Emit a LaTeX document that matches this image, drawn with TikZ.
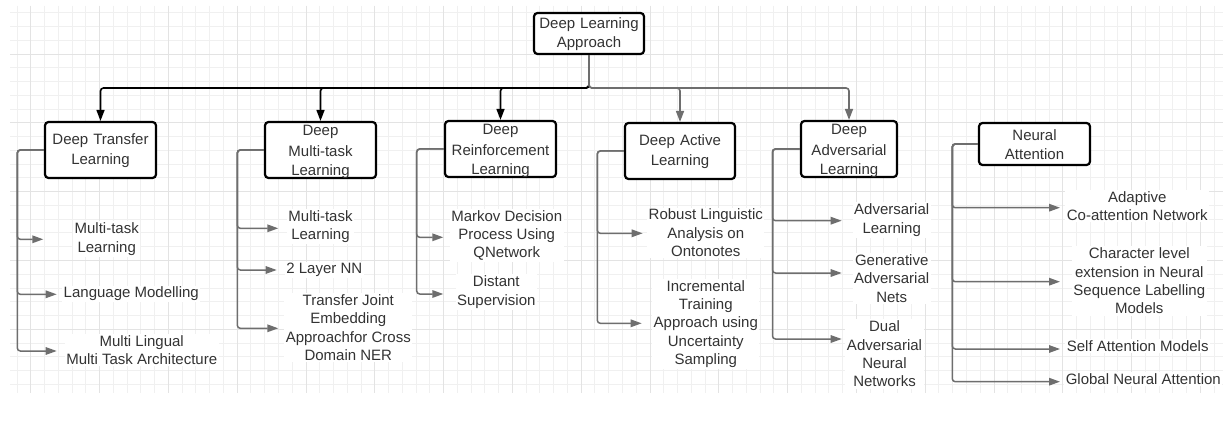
\documentclass[tikz,border=0pt]{standalone}
\usepackage{fontspec}
\setmainfont{Liberation Sans}
\usetikzlibrary{arrows.meta}
\definecolor{txt}{HTML}{333333}
\definecolor{conn}{HTML}{6E6E6E}
\definecolor{gridminor}{HTML}{F0F0F0}
\definecolor{gridmajor}{HTML}{E3E3E3}

\begin{document}
\begin{tikzpicture}[x=1pt,y=-1pt,
  every node/.style={font=\fontsize{15pt}{18.4pt}\selectfont, text=txt},
  topic/.style={draw=black, line width=2.2pt, rounded corners=3.5pt, fill=white,
    align=center, inner sep=0pt, minimum height=56pt},
  lowered/.style={execute at begin node={\vspace*{#1}},
    execute at end node={\endgraf\vspace*{-#1}}},
  leaf/.style={fill=white, align=center, inner sep=1.5pt},
  mainblack/.style={draw=black, line width=1.6pt, rounded corners=3pt,
    -{Triangle[length=11pt,width=8pt]}},
  maingray/.style={draw=conn, line width=1.6pt, rounded corners=3pt,
    -{Triangle[length=11pt,width=8pt]}},
  branch/.style={draw=conn, line width=1.5pt, rounded corners=3pt,
    -{Triangle[length=11pt,width=7.5pt]}}
]
% page and background
\fill[white] (0,0) rectangle (1223,422);
\useasboundingbox (0,0) rectangle (1223,422);

% drawing-canvas grid
\begin{scope}
  \clip (10,6) rectangle (1223,393);
  \foreach \i in {-2,...,86}
    \draw[gridminor, line width=0.8pt] ({30.7+13.76*\i},6) -- ({30.7+13.76*\i},393);
  \foreach \j in {-3,...,25}
    \draw[gridminor, line width=0.8pt] (10,{54+13.76*\j}) -- (1223,{54+13.76*\j});
  \foreach \i in {0,5,...,85}
    \draw[gridmajor, line width=0.8pt] ({30.7+13.76*\i},6) -- ({30.7+13.76*\i},393);
  \foreach \j in {0,5,...,25}
    \draw[gridmajor, line width=0.8pt] (10,{54+13.76*\j}) -- (1223,{54+13.76*\j});
\end{scope}

% root and first-level topics
\node[topic, lowered=1pt, text width=110pt, minimum height=41pt] (root) at (589,33.5) {Deep Learning\\Approach};
\node[topic, lowered=1pt, text width=111pt] (dtl)  at (100.5,150) {Deep Transfer\\Learning};
\node[topic, lowered=3pt, text width=111pt] (dml)  at (320.5,150) {Deep\\Multi-task\\Learning};
\node[topic, lowered=3pt, text width=111pt] (drl)  at (500.5,149) {Deep\\Reinforcement\\Learning};
\node[topic, lowered=1pt, text width=110pt] (dal)  at (680,151)   {Deep Active\\Learning};
\node[topic, lowered=3pt, text width=96pt]  (dadv) at (849,149)   {Deep\\Adversarial\\Learning};
\node[topic, lowered=1pt, text width=111pt, minimum height=42pt] (na) at (1034.5,144) {Neural\\Attention};

% leaf labels
\node[leaf] (l11) at (106.7,239)  {Multi-task\\Learning};
\node[leaf] (l12) at (131.3,294)  {Language Modelling};
\node[leaf] (l13) at (141.7,350)  {Multi Lingual\\Multi Task Architecture};
\node[leaf] (l21) at (320.5,226.5) {Multi-task\\Learning};
\node[leaf] (l22) at (324.3,270)  {2 Layer NN};
\node[leaf] (l23) at (348.3,327.5) {Transfer Joint\\Embedding\\Approachfor Cross\\Domain NER};
\node[leaf] (l31) at (506.7,235.5) {Markov Decision\\Process Using\\QNetwork};
\node[leaf] (l32) at (496.3,292)  {Distant\\Supervision};
\node[leaf] (l41) at (705.8,233)  {Robust Linguistic\\Analysis on\\Ontonotes};
\node[leaf] (l42) at (705.8,324)  {Incremental\\Training\\Approach using\\Uncertainty\\Sampling};
\node[leaf] (l51) at (891.7,220)  {Adversarial\\Learning};
\node[leaf] (l52) at (891.7,278.3) {Generative\\Adversarial\\Nets};
\node[leaf] (l53) at (884.5,354)  {Dual\\Adversarial\\Neural\\Networks};
\node[leaf] (l61) at (1137.3,206) {Adaptive\\Co-attention Network};
\node[leaf] (l62) at (1139.3,281) {Character level\\extension in Neural\\Sequence Labelling\\Models};
\node[leaf] (l63) at (1137.7,345.7) {Self Attention Models};
\node[leaf] (l64) at (1143.3,379) {Global Neural Attention};

% junction of the top bus and the branch spines
\coordinate (bus) at (589,88);
\coordinate (sp1) at (17.3,0);
\coordinate (sp2) at (237.3,0);
\coordinate (sp3) at (416.7,0);
\coordinate (sp4) at (597.3,0);
\coordinate (sp5) at (772.5,0);
\coordinate (sp6) at (952.3,0);

% arrow tips in front of the leaf labels
\coordinate (t11) at (43.3,239.3);
\coordinate (t12) at (56.7,294.3);
\coordinate (t13) at (56.7,351);
\coordinate (t21) at (278.3,228.3);
\coordinate (t22) at (276.7,270);
\coordinate (t23) at (278.3,328.3);
\coordinate (t31) at (443.3,237.3);
\coordinate (t32) at (443.3,294);
\coordinate (t41) at (642.7,233.3);
\coordinate (t42) at (641.7,323.3);
\coordinate (t51) at (841.7,220.7);
\coordinate (t52) at (841.7,273);
\coordinate (t53) at (841.7,339);
\coordinate (t61) at (1060,207.7);
\coordinate (t62) at (1060,281.7);
\coordinate (t63) at (1060,349);
\coordinate (t64) at (1060,381.7);

% root to first-level topics
\draw[mainblack] (root.south) -- (bus) -| (dtl.north);
\draw[mainblack] (root.south) -- (bus) -| (dml.north);
\draw[mainblack] (root.south) -- (bus) -| (drl.north);
\draw[maingray]  (root.south) -- (bus) -| (dal.north);
\draw[maingray]  (root.south) -- (bus) -| (dadv.north);

% first-level topics to leaves
\foreach \t in {t11,t12,t13}
  \draw[branch] (dtl.west) -| (sp1 |- \t) -- (\t);
\foreach \t in {t21,t22,t23}
  \draw[branch] (dml.west) -| (sp2 |- \t) -- (\t);
\foreach \t in {t31,t32}
  \draw[branch] (drl.west) -| (sp3 |- \t) -- (\t);
\foreach \t in {t41,t42}
  \draw[branch] (dal.west) -| (sp4 |- \t) -- (\t);
\foreach \t in {t51,t52,t53}
  \draw[branch] (dadv.west) -| (sp5 |- \t) -- (\t);
\foreach \t in {t61,t62,t63,t64}
  \draw[branch] (na.west) -| (sp6 |- \t) -- (\t);
\end{tikzpicture}
\end{document}
